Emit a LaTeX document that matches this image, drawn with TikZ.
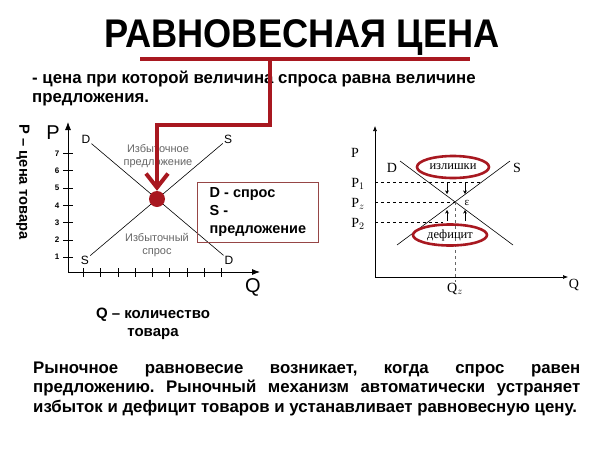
\documentclass[tikz,border=0pt]{standalone}
\usepackage{fontspec}
\setmainfont{Liberation Sans}
\newfontfamily\graphserif{Liberation Serif}
\usetikzlibrary{arrows.meta,shapes.geometric}
\definecolor{darkRed}{RGB}{168,24,32}
\definecolor{boxRed}{RGB}{150,70,70}
\frenchspacing

\begin{document}
\begin{tikzpicture}
[x=1pt,y=-1pt,
  lineDecorate/.style={-,semithick},%
  axisDecorate/.style={-{Latex[length=8pt,width=6pt]},thick},%
  smallAxis/.style={-{Latex[length=5pt,width=4pt]},semithick},%
  tickDecorate/.style={-,thick},%
  dashDecorate/.style={-,dashed,semithick},%
  moveArrow/.style={-{Stealth[length=3.5pt,width=3.5pt]},thin},%
  redLine/.style={draw=darkRed,line width=4pt},%
  ovalDecorate/.style={shape=ellipse,draw=darkRed,line width=2.6pt,inner sep=0pt,font=\graphserif\fontsize{12.5}{12.5}\selectfont},%
  sansLabel/.style={inner sep=1pt,font=\fontsize{12}{12}\selectfont},%
  serifLabel/.style={inner sep=1pt,font=\graphserif\fontsize{14}{14}\selectfont},%
  grayText/.style={inner sep=0pt,align=center,text=black!60,font=\fontsize{11}{13.5}\selectfont},%
  boldText/.style={inner sep=0pt,font=\bfseries\fontsize{16.8}{19.3}\selectfont}]
\useasboundingbox (0,0) rectangle (600,450);

%% heading and definition
\node (title) at (302,47) [anchor=base,inner sep=0pt,font=\bfseries\fontsize{40}{40}\selectfont] {\scalebox{0.905}[1]{РАВНОВЕСНАЯ ЦЕНА}};
\node (defA) at (32,83) [anchor=base west,boldText] {- цена при которой величина спроса равна величине};
\node (defB) at (32,102) [anchor=base west,boldText] {предложения.};

%% left graph: axes and ticks
\coordinate (lOrig) at (68,272);
\coordinate (lTop) at (68,122);
\coordinate (lRight) at (260,272);
\draw[axisDecorate] (lOrig) -- (lTop);
\draw[axisDecorate] (lOrig) -- (lRight);
\foreach \k in {1,...,7}
{
  \draw[tickDecorate] (63,274.5-17.3*\k) -- (73,274.5-17.3*\k);
  \node at (57,274.5-17.3*\k) [inner sep=0pt,font=\bfseries\fontsize{8}{8}\selectfont] {\k};
}
\foreach \k in {1,...,9}
{
  \draw[tickDecorate] (66+17.3*\k,268) -- (66+17.3*\k,277);
}
\node (lP) at (53,133) [inner sep=0pt,font=\fontsize{20}{20}\selectfont] {P};
\node (lQ) at (253,287) [inner sep=0pt,font=\fontsize{20}{20}\selectfont] {Q};
\node (lPname) at (23,182) [rotate=-90,inner sep=0pt,font=\bfseries\fontsize{14.7}{14.7}\selectfont] {P – цена товара};
\node (lQname) at (153,324) [inner sep=0pt,align=center,font=\bfseries\fontsize{15}{18}\selectfont] {Q – количество\\товара};

%% left graph: demand and supply
\foreach \nodename/\x/\y/\txt in {
  dHigh/86/139/D, sHigh/228/139/S,
  sLow/85/260/S, dLow/229/260/D}
{
  \node (\nodename) at (\x,\y) [sansLabel] {\txt};
}
\path
\foreach \startnode/\endnode in {dHigh/dLow, sLow/sHigh}
{
  (\startnode) edge[lineDecorate] (\endnode)
};
\node (overSupply) at (158,156) [grayText] {Избыточное\\предложение};
\node (overDemand) at (157,245) [grayText] {Избыточный\\спрос};
\node (eqDot) at (157,199) [shape=circle,fill=darkRed,minimum size=16pt,inner sep=0pt] {};

%% legend
\node (legend) at (197,182) [anchor=north west,draw=boxRed,thick,minimum width=121pt,minimum height=60pt,
  inner sep=5pt,align=left,font=\bfseries\fontsize{14.5}{18}\selectfont] {D - спрос\\S -\\предложение};

%% red pointer
\coordinate (ulLeft) at (140,59);
\coordinate (ulRight) at (470,59);
\coordinate (ulMid) at (270,59);
\coordinate (bend) at (157,125);
\draw[redLine] (ulLeft) -- (ulRight);
\draw[redLine,-{Straight Barb[length=14pt,width=22pt]}] (ulMid) |- (bend) -- (eqDot);

%% right graph: axes
\coordinate (rOrig) at (375,277);
\coordinate (rTop) at (375,126);
\coordinate (rRight) at (568,277);
\draw[smallAxis] (rOrig) -- (rTop);
\draw[smallAxis] (rOrig) -- (rRight);
\node (rP) at (355,153) [serifLabel] {P};
\node (rQ) at (574,285) [serifLabel] {Q};

%% right graph: curves
\coordinate (dA) at (400,161);
\coordinate (dB) at (513,245);
\coordinate (sA) at (397,245);
\coordinate (sB) at (510,161);
\coordinate (eqR) at (455,202);
\draw[lineDecorate] (dA) -- (dB);
\draw[lineDecorate] (sA) -- (sB);
\node (rD) at (392,168) [serifLabel] {D};
\node (rS) at (517,168) [serifLabel] {S};
\node (eps) at (467,203) [inner sep=0pt,font=\graphserif\fontsize{11}{11}\selectfont] {ε};

%% price levels
\foreach \nodename/\y/\txt/\xend in {
  pOne/182/P$_1$/482, pZ/202/P$_z$/455, pTwo/222/P$_2$/443}
{
  \node (\nodename) at (358,\y+2) [serifLabel] {\txt};
  \draw[dashDecorate] (375,\y) -- (\xend,\y);
}
\node (qZ) at (455,289) [serifLabel] {Q$_z$};
\draw[dashDecorate,thin,black!60] (eqR) -- (qZ);

%% surplus and shortage
\foreach \x in {447,465}
{
  \draw[moveArrow] (\x,183) -- (\x,194);
  \draw[moveArrow] (\x,221) -- (\x,210);
}
\node (surplus) at (453,167) [ovalDecorate,minimum width=72pt,minimum height=22pt] {излишки};
\node (deficit) at (450,235) [ovalDecorate,minimum width=74pt,minimum height=21pt] {дефицит};

%% conclusion
\node (summary) at (33,412) [anchor=base west,boldText,align=left] {%
\makebox[547pt][s]{Рыночное равновесие возникает, когда спрос равен}\\
\makebox[547pt][s]{предложению. Рыночный механизм автоматически устраняет}\\
избыток и дефицит товаров и устанавливает равновесную цену.};
\end{tikzpicture}
\end{document}
